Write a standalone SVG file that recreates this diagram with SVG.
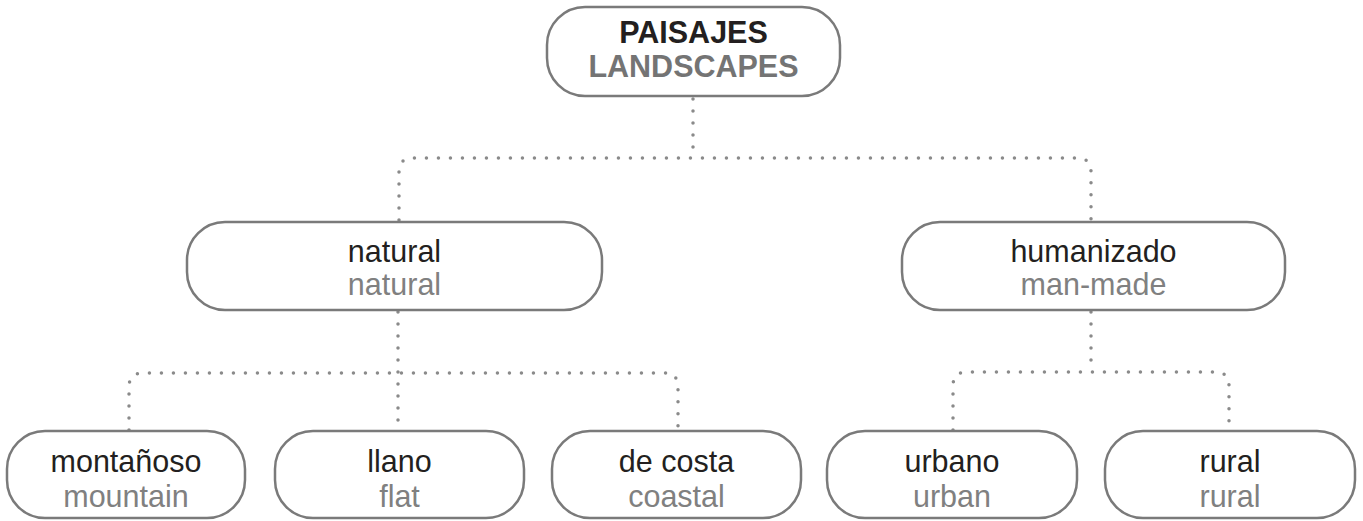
<svg xmlns="http://www.w3.org/2000/svg" width="1363" height="521" viewBox="0 0 1363 521">
<style>
.box{fill:#fff;stroke:#7a7a7a;stroke-width:2.5}
.t1{font-family:"Liberation Sans",Arial,sans-serif;font-size:30.5px;fill:#231f20;text-anchor:middle}
.t2{font-family:"Liberation Sans",Arial,sans-serif;font-size:30.5px;fill:#808080;text-anchor:middle}
.b1{font-family:"Liberation Sans",Arial,sans-serif;font-size:30.5px;font-weight:bold;fill:#231f20;text-anchor:middle}
.b2{font-family:"Liberation Sans",Arial,sans-serif;font-size:30.5px;font-weight:bold;fill:#747474;text-anchor:middle}
.dot{fill:none;stroke:#8a8a8a;stroke-width:3.5;stroke-linecap:round;stroke-dasharray:0 12}
</style>
<g id="connectors">
<path class="dot" d="M693,99 V158"/>
<path class="dot" d="M399,220 V172 Q399,158 413,158 H1077 Q1091,158 1091,172 V220"/>
<path class="dot" d="M398,312 V430"/>
<path class="dot" d="M129,430 V387 Q129,373 143,373 H664 Q678,373 678,387 V430"/>
<path class="dot" d="M1091,312 V372"/>
<path class="dot" d="M953,430 V386 Q953,372 967,372 H1215 Q1229,372 1229,386 V430"/>
</g>
<g id="paisajes">
<rect class="box" x="547" y="7" width="293" height="89" rx="38"/>
<text class="b1" x="693.5" y="43">PAISAJES</text>
<text class="b2" x="693.5" y="77">LANDSCAPES</text>
</g>
<g id="natural">
<rect class="box" x="187" y="222" width="415" height="88" rx="38"/>
<text class="t1" x="394.5" y="262">natural</text>
<text class="t2" x="394.5" y="295">natural</text>
</g>
<g id="humanizado">
<rect class="box" x="902" y="222" width="383" height="88" rx="38"/>
<text class="t1" x="1093.5" y="262">humanizado</text>
<text class="t2" x="1093.5" y="295">man-made</text>
</g>
<g id="montanoso">
<rect class="box" x="7" y="431" width="238" height="87" rx="38"/>
<text class="t1" x="126" y="472">montañoso</text>
<text class="t2" x="126" y="507">mountain</text>
</g>
<g id="llano">
<rect class="box" x="275" y="431" width="249" height="87" rx="38"/>
<text class="t1" x="399.5" y="472">llano</text>
<text class="t2" x="399.5" y="507">flat</text>
</g>
<g id="decosta">
<rect class="box" x="552" y="431" width="249" height="87" rx="38"/>
<text class="t1" x="676.5" y="472">de costa</text>
<text class="t2" x="676.5" y="507">coastal</text>
</g>
<g id="urbano">
<rect class="box" x="827" y="431" width="250" height="87" rx="38"/>
<text class="t1" x="952" y="472">urbano</text>
<text class="t2" x="952" y="507">urban</text>
</g>
<g id="rural">
<rect class="box" x="1105" y="431" width="250" height="87" rx="38"/>
<text class="t1" x="1230" y="472">rural</text>
<text class="t2" x="1230" y="507">rural</text>
</g>
</svg>
